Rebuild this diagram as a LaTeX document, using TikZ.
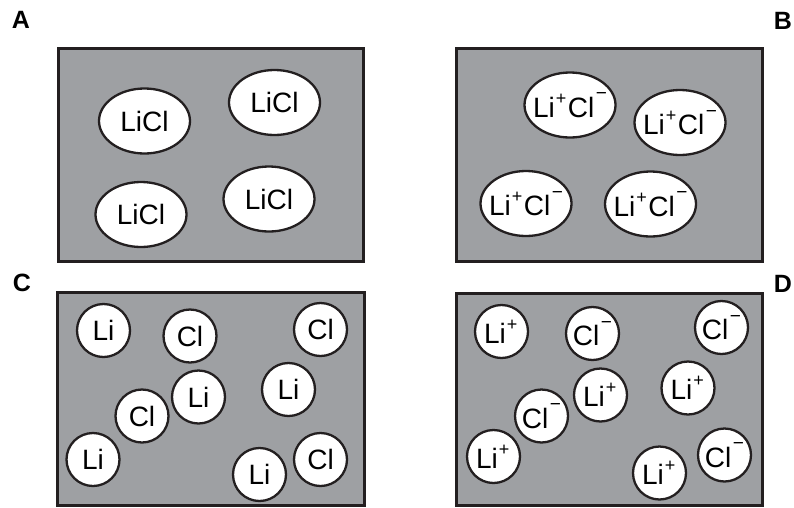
\documentclass[tikz,border=0pt]{standalone}
\usepackage{fontspec}
\setmainfont{Liberation Sans}
\usetikzlibrary{shapes.geometric}
\definecolor{panelgray}{RGB}{158,160,163}
\definecolor{inkdark}{RGB}{35,31,32}
\newcommand{\ionpos}{\kern1pt\raisebox{13pt}{\fontsize{18}{18}\selectfont +}\kern1.5pt}
\newcommand{\ionneg}{\kern1.5pt\raisebox{17.5pt}{\fontsize{19}{19}\selectfont\char"2212}}
\begin{document}
\begin{tikzpicture}[x=1pt,y=-1pt,
  panel/.style={draw=inkdark, line width=3pt, fill=panelgray},
  mol/.style={ellipse, draw=inkdark, line width=2.3pt, fill=white, inner sep=0pt,
    minimum width=91pt, minimum height=65pt, font=\fontsize{28}{30}\selectfont},
  atom/.style={circle, draw=inkdark, line width=2.3pt, fill=white, inner sep=0pt,
    minimum size=53pt, font=\fontsize{28}{30}\selectfont},
  letter/.style={inner sep=0pt, font=\bfseries\fontsize{25}{28}\selectfont}]
\useasboundingbox (0,0) rectangle (794,507);
% labels
\node[letter] (lA) at (21,20) {A};
\node[letter] (lB) at (783,21) {B};
\node[letter] (lC) at (22,283) {C};
\node[letter] (lD) at (783,284) {D};
% panels
\draw[panel] (58.5,48.3) rectangle (363.7,261);
\draw[panel] (456,48.3) rectangle (762,261);
\draw[panel] (57.5,292.3) rectangle (364,505.5);
\draw[panel] (456,293.3) rectangle (762,505.5);
% panel A
\node[mol] (a1) at (144.5,121) {\makebox[0pt]{LiCl}};
\node[mol] (a2) at (274.5,102.5) {\makebox[0pt]{LiCl}};
\node[mol] (a3) at (141,214.5) {\makebox[0pt]{LiCl}};
\node[mol] (a4) at (269,199) {\makebox[0pt]{LiCl}};
% panel B
\node[mol] (b1) at (570,105) {\makebox[0pt]{Li\ionpos Cl\ionneg}};
\node[mol] (b2) at (680,122.5) {\makebox[0pt]{Li\ionpos Cl\ionneg}};
\node[mol] (b3) at (526,203.5) {\makebox[0pt]{Li\ionpos Cl\ionneg}};
\node[mol] (b4) at (650.5,204) {\makebox[0pt]{Li\ionpos Cl\ionneg}};
% panel C
\node[atom] (c1) at (103.5,330.5) {Li};
\node[atom] (c2) at (190,336) {Cl};
\node[atom] (c3) at (320.5,329.5) {Cl};
\node[atom] (c4) at (198.5,397) {Li};
\node[atom] (c5) at (288.5,389.5) {Li};
\node[atom] (c6) at (142,416) {Cl};
\node[atom] (c7) at (93,459.5) {Li};
\node[atom] (c8) at (259.5,474.5) {Li};
\node[atom] (c9) at (320.5,459.5) {Cl};
% panel D
\node[atom] (d1) at (501.5,331.5) {\makebox[0pt]{Li\ionpos}};
\node[atom] (d2) at (592.5,333.5) {\makebox[0pt]{Cl\ionneg}};
\node[atom] (d3) at (721.5,327.5) {\makebox[0pt]{Cl\ionneg}};
\node[atom] (d4) at (600.5,395) {\makebox[0pt]{Li\ionpos}};
\node[atom] (d5) at (688,388) {\makebox[0pt]{Li\ionpos}};
\node[atom] (d6) at (541.5,416) {\makebox[0pt]{Cl\ionneg}};
\node[atom] (d7) at (493.5,456.5) {\makebox[0pt]{Li\ionpos}};
\node[atom] (d8) at (659.5,473) {\makebox[0pt]{Li\ionpos}};
\node[atom] (d9) at (724.5,455) {\makebox[0pt]{Cl\ionneg}};
\end{tikzpicture}
\end{document}
